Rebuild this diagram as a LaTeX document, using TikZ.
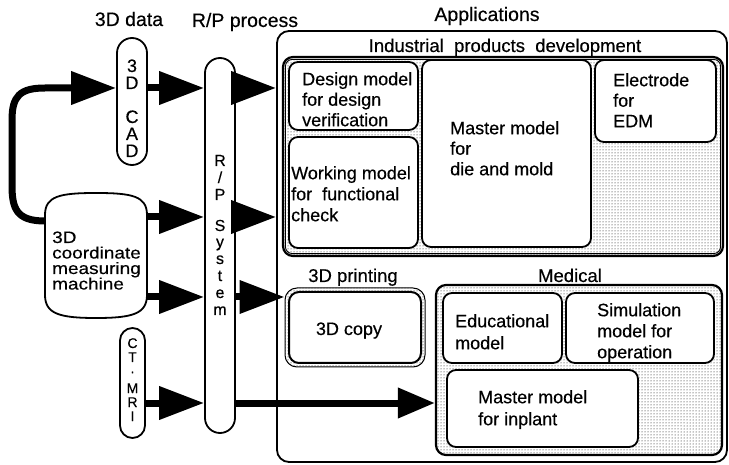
\documentclass[tikz,border=0pt]{standalone}
\usepackage{fontspec}
\setmainfont{Liberation Sans}[FakeBold=0.4]
\usetikzlibrary{arrows.meta,patterns,calc}
\newcommand\slashsym{/}
\begin{document}
\begin{tikzpicture}[x=1pt,y=-1pt,
  every node/.style={inner sep=0pt, font=\fontsize{18}{20.5}\selectfont},
  rbox/.style={draw, line width=1.8pt, rounded corners=9pt, fill=white},
  capsule/.style={draw, line width=1.8pt, fill=white},
  dotbox/.style={draw, line width=2.2pt, rounded corners=10pt, pattern=dots},
  bigarrow/.style={line width=7pt, -{Triangle[length=45pt,width=32pt]}},
  smallarrow/.style={line width=7pt, -{Triangle[length=37pt,width=29pt]}},
  txt/.style={anchor=north west, align=left},
  title/.style={anchor=base},
  bigtitle/.style={anchor=base, font=\fontsize{19.5}{20}\selectfont},
  vlet/.style={anchor=base, font=\fontsize{16}{16}\selectfont},
  cmmtxt/.style={anchor=base west, font=\fontsize{16.5}{14.5}\selectfont\addfontfeature{FakeStretch=1.15}},
]
\useasboundingbox (0,0) rectangle (729,465);

% row coordinates
\coordinate (r1) at (0,88);
\coordinate (r2) at (0,217);
\coordinate (r3) at (0,297);
\coordinate (r4) at (0,403);
\coordinate (rl) at (0,221);

% titles
\node[bigtitle] (t3d) at (129,26) {3D data};
\node[bigtitle] (trp) at (245,27) {R/P process};
\node[bigtitle] (tapp) at (487,21) {Applications};

% Applications frame
\node[draw, line width=1.8pt, rounded corners=12pt, minimum width=450pt, minimum height=431pt] (app) at (502,246.5) {};

\node[title, font=\fontsize{18.5}{20}\selectfont] (tind) at (505,52) {Industrial\ \ products\ \ development};
\node[dotbox, minimum width=440pt, minimum height=199pt] (ind) at (503,156.5) {};
\draw[line width=0.9pt, rounded corners=7pt] ([shift={(3.5pt,-3.5pt)}]ind.north west) rectangle ([shift={(-3.5pt,3.5pt)}]ind.south east);

\node[rbox, minimum width=129pt, minimum height=68pt] (design) at (353.5,96) {};
\node[rbox, minimum width=129pt, minimum height=111pt] (working) at (353.5,192.5) {};
\node[rbox, minimum width=169pt, minimum height=187pt] (master) at (506.5,153.5) {};
\node[rbox, minimum width=121pt, minimum height=82pt] (electrode) at (655.5,101) {};

\node[txt] (designt) at (302,72) {Design model\\for design\\verification};
\node[txt, font=\fontsize{18}{21}\selectfont] (workingt) at (291,166) {Working model\\for\ \ functional\\check};
\node[txt] (mastert) at (450,121) {Master model\\for\\die and mold};
\node[txt] (electrodet) at (613,73) {Electrode\\for\\EDM};

% 3D printing
\node[title, font=\fontsize{18.5}{20}\selectfont] (tprint) at (353,282) {3D printing};
\node[draw, line width=1pt, rounded corners=12pt, pattern=dots, minimum width=140pt, minimum height=79pt] (copyo) at (355,327.5) {};
\node[rbox, line width=2pt, rounded corners=10pt, minimum width=132pt, minimum height=71pt] (copy) at (355,327.5) {};
\node[title] (copyt) at (349,335) {3D copy};

% Medical
\node[title, font=\fontsize{18.5}{20}\selectfont] (tmed) at (570,282) {Medical};
\node[dotbox, minimum width=286pt, minimum height=170pt] (med) at (579,370) {};
\node[rbox, minimum width=119pt, minimum height=70pt] (edu) at (502.5,328) {};
\node[rbox, minimum width=148pt, minimum height=70pt] (sim) at (640,328) {};
\node[rbox, minimum width=191pt, minimum height=77pt] (impl) at (542.5,408.5) {};
\node[txt, font=\fontsize{18}{22}\selectfont] (edut) at (455,314) {Educational\\model};
\node[txt, font=\fontsize{18}{21}\selectfont] (simt) at (597,303) {Simulation\\model for\\operation};
\node[txt, font=\fontsize{18}{22}\selectfont] (implt) at (478,390) {Master model\\for inplant};

% 3D CAD capsule
\node[capsule, rounded corners=15pt, minimum width=30pt, minimum height=127pt] (cad) at (132,101.5) {};
\foreach \l/\y [count=\i] in {3/72,D/89,C/123,A/140,D/157}
  \node[vlet, font=\fontsize{18}{18}\selectfont] (cad\i) at (132,\y) {\l};

% R/P system capsule
\node[capsule, rounded corners=15pt, minimum width=30pt, minimum height=375pt] (rp) at (220,245.5) {};
\foreach \l/\y [count=\i] in {R/166,\slashsym/183,P/200,S/231,y/247,s/264,t/281,e/298,m/315}
  \node[vlet] (rp\i) at (220,\y) {\l};

% CT MRI capsule
\node[capsule, rounded corners=12.5pt, minimum width=25pt, minimum height=110pt] (ct) at (132.5,383) {};
\foreach \l/\y [count=\i] in {C/348,T/362,M/393,R/407,I/421}
  \node[vlet, font=\fontsize{14}{14}\selectfont] (ct\i) at (132.5,\y) {\l};
\node[font=\fontsize{14}{14}\selectfont] (ctdot) at (132.5,374) {\textperiodcentered};

% 3D coordinate measuring machine
\node[minimum width=102pt, minimum height=125pt] (cmm) at (96,255.5) {};
\draw[line width=1.8pt, fill=white] (45,215) .. controls (45,196) and (60,193) .. (96,193)
  .. controls (132,193) and (147,196) .. (147,215) -- (147,295)
  .. controls (147,314) and (132,318) .. (96,318)
  .. controls (60,318) and (45,314) .. (45,295) -- cycle;
\node[cmmtxt] (cmmt) at (52,243) {3D};
\node[cmmtxt] (cmmt2) at (52,258.5) {coordinate};
\node[cmmtxt] (cmmt3) at (52,274) {measuring};
\node[cmmtxt] (cmmt4) at (52,289.5) {machine};

% arrows
\draw[bigarrow] (cmm.west |- rl) .. controls (16,221) and (12,208) .. (12,185)
  -- (12,120) .. controls (12,96) and (20,88) .. (45,88) -- (cad.west |- r1);
\draw[bigarrow] (cad.east |- r1) -- (rp.west |- r1);
\draw[bigarrow] (rp.east |- r1) -- (app.west |- r1);
\draw[bigarrow] (cmm.east |- r2) -- (rp.west |- r2);
\draw[bigarrow] (rp.east |- r2) -- (app.west |- r2);
\draw[bigarrow] (cmm.east |- r3) -- (rp.west |- r3);
\draw[bigarrow] (rp.east |- r3) -- (copyo.west |- r3);
\draw[bigarrow] (ct.east |- r4) -- (rp.west |- r4);
\draw[smallarrow] (rp.east |- r4) -- (med.west |- r4);
\end{tikzpicture}
\end{document}
